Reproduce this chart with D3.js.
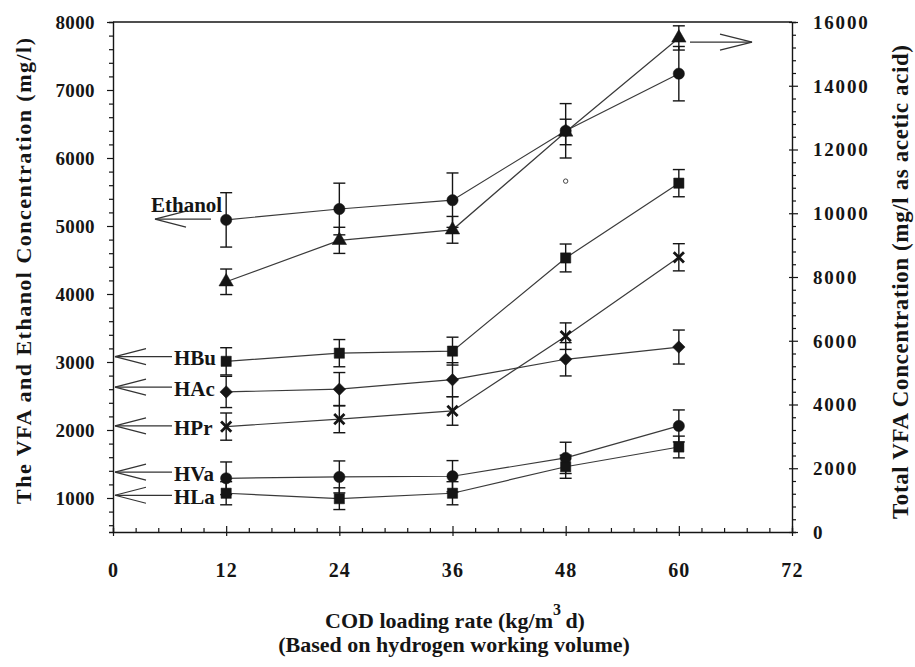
<!DOCTYPE html>
<html>
<head>
<meta charset="utf-8">
<script src="https://cdn.jsdelivr.net/npm/d3@7"></script>
<style>
  body { margin: 0; background: #fff; }
  svg { display: block; }
  text { font-family: "Liberation Serif", "Times New Roman", serif; font-weight: bold; fill: #151515; }
</style>
</head>
<body>
<svg id="chart" width="915" height="667"></svg>
<script>
// COD loading rate (kg/m3 d)
const loadingRates = [12, 24, 36, 48, 60];

// Ethanol and individual acids (mg/l, left axis) with their error half-widths
const ethanol      = [5090, 5250, 5380, 6400, 7240];
const ethanolErr   = [400, 380, 400, 400, 400];
const butyric      = [3010, 3130, 3160, 4530, 5630];
const butyricErr   = [200, 200, 205, 205, 200];
const acetic       = [2560, 2600, 2740, 3040, 3220];
const aceticErr    = [230, 245, 250, 245, 250];
const propionic    = [2050, 2160, 2280, 3380, 4540];
const propionicErr = [200, 200, 210, 195, 200];
const valeric      = [1290, 1310, 1320, 1590, 2060];
const valericErr   = [240, 235, 230, 230, 235];
const lactic       = [1070, 990, 1070, 1460, 1750];
const lacticErr    = [170, 160, 170, 170, 160];

// Total VFA (mg/l as acetic acid, right axis)
const totalVFA     = [7850, 9150, 9480, 12550, 15500];
const totalVFAErr  = [400, 410, 420, 400, 380];

// stray open dot at 48
const strayDot = [{ x: 48, v: 5660 }];

// axis ticks
const xTicks      = [0, 12, 24, 36, 48, 60, 72];
const leftTicks   = [1000, 2000, 3000, 4000, 5000, 6000, 7000, 8000];
const rightTicks  = [0, 2000, 4000, 6000, 8000, 10000, 12000, 14000, 16000];

// labels with arrows pointing to the left axis (value the arrow points at)
const leftArrowLabels = ["HBu", "HAc", "HPr", "HVa", "HLa"];
const leftArrowValues = [3080, 2630, 2060, 1380, 1040];
const ethanolArrowValue = 5100;
const totalArrowValue = 15370;

const svg = d3.select("#chart");
const M = { left: 113, right: 792, top: 22, bottom: 532 };

const x  = d3.scaleLinear().domain([0, 72]).range([M.left, M.right]);
const yL = d3.scaleLinear().domain([500, 8000]).range([M.bottom, M.top]);
const yR = d3.scaleLinear().domain([0, 16000]).range([M.bottom, M.top]);

const ink = "#151515";
const lineInk = "#3a3a3a";
const serif = "'Liberation Serif', 'Times New Roman', serif";

// ---- axes ----
const fmtInt = d3.format("d");

// left axis: minor every 200, labelled every 1000
const leftAll = d3.range(600, 8001, 200);
const gL = svg.append("g").attr("transform", `translate(${M.left},0)`)
  .call(d3.axisLeft(yL).tickValues(leftAll).tickSize(4)
    .tickFormat(d => leftTicks.includes(d) ? fmtInt(d) : ""));
gL.selectAll(".tick line").attr("x2", d => leftTicks.includes(d) ? -6 : -4);
gL.selectAll(".tick text").attr("x", -18).attr("dy", "0.34em")
  .attr("font-size", 19).attr("letter-spacing", 0.4);

// right axis: minor every 400, labelled every 2000
const rightAll = d3.range(0, 16001, 400);
const gR = svg.append("g").attr("transform", `translate(${M.right},0)`)
  .call(d3.axisRight(yR).tickValues(rightAll).tickSize(4)
    .tickFormat(d => rightTicks.includes(d) ? fmtInt(d) : ""));
gR.selectAll(".tick line")
  .attr("x1", d => rightTicks.includes(d) ? -3 : 0)
  .attr("x2", d => rightTicks.includes(d) ? 6 : 4);
gR.selectAll(".tick text").attr("x", 21).attr("dy", "0.34em")
  .attr("font-size", 19).attr("letter-spacing", 1.8);

// bottom axis: minor every 2.4, labelled every 12, ticks point inward
const xAll = d3.range(0, 73, 2.4).map(v => +v.toFixed(1));
const gB = svg.append("g").attr("transform", `translate(0,${M.bottom})`)
  .call(d3.axisBottom(x).tickValues(xAll).tickSize(-4)
    .tickFormat(d => xTicks.includes(d) ? fmtInt(d) : ""));
gB.selectAll(".tick line")
  .attr("y1", d => xTicks.includes(d) ? 4 : 0)
  .attr("y2", d => xTicks.includes(d) ? -6 : -4);
gB.selectAll(".tick text").attr("y", 45).attr("dy", "0")
  .attr("font-size", 20).attr("letter-spacing", 1.2);

[gL, gR, gB].forEach(g => {
  g.selectAll(".domain").attr("stroke", ink).attr("stroke-width", 1.4);
  g.selectAll(".tick line").attr("stroke", ink).attr("stroke-width", 1.2);
  g.selectAll(".tick text").attr("fill", ink)
    .attr("font-family", serif).attr("font-weight", "bold");
});
// top border of the frame
svg.append("line")
  .attr("x1", M.left).attr("x2", M.right).attr("y1", M.top).attr("y2", M.top)
  .attr("stroke", ink).attr("stroke-width", 1.4);

// ---- series ----
const series = [
  { vals: ethanol,   err: ethanolErr,   y: yL, shape: "circle" },
  { vals: totalVFA,  err: totalVFAErr,  y: yR, shape: "triangle" },
  { vals: butyric,   err: butyricErr,   y: yL, shape: "square" },
  { vals: acetic,    err: aceticErr,    y: yL, shape: "diamond" },
  { vals: propionic, err: propionicErr, y: yL, shape: "cross" },
  { vals: valeric,   err: valericErr,   y: yL, shape: "circle" },
  { vals: lactic,    err: lacticErr,    y: yL, shape: "square" }
];

const gLines = svg.append("g");
const gErr = svg.append("g");
const gMarks = svg.append("g");

const line = (ys) => d3.line().x(d => x(d.x)).y(d => ys(d.v));

const symbolPath = {
  circle:   d3.symbol().type(d3.symbolCircle).size(100)(),
  square:   d3.symbol().type(d3.symbolSquare).size(105)(),
  diamond:  d3.symbol().type(d3.symbolSquare).size(78)(),
  triangle: d3.symbol().type(d3.symbolTriangle).size(90)(),
  cross:    d3.symbol().type(d3.symbolX).size(70)()
};

series.forEach(s => {
  const pts = loadingRates.map((r, i) => ({ x: r, v: s.vals[i], e: s.err[i] }));

  gLines.append("path").datum(pts)
    .attr("d", line(s.y))
    .attr("fill", "none").attr("stroke", lineInk).attr("stroke-width", 1.2);

  const eb = gErr.selectAll(null).data(pts).enter().append("g")
    .attr("stroke", ink).attr("stroke-width", 1.4);
  eb.append("line")
    .attr("x1", d => x(d.x)).attr("x2", d => x(d.x))
    .attr("y1", d => s.y(d.v - d.e)).attr("y2", d => s.y(d.v + d.e));
  [-1, 1].forEach(sign => {
    eb.append("line")
      .attr("x1", d => x(d.x) - 6).attr("x2", d => x(d.x) + 6)
      .attr("y1", d => s.y(d.v + sign * d.e)).attr("y2", d => s.y(d.v + sign * d.e));
  });

  gMarks.selectAll(null).data(pts).enter().append("path")
    .attr("d", symbolPath[s.shape])
    .attr("transform", d => {
      const t = `translate(${x(d.x)},${s.y(d.v)})`;
      return s.shape === "diamond" ? t + " rotate(45)" : t;
    })
    .attr("fill", s.shape === "cross" ? "none" : ink)
    .attr("stroke", ink)
    .attr("stroke-width", s.shape === "cross" ? 2.8 : 0.5);
});

gMarks.selectAll(null).data(strayDot).enter().append("circle")
  .attr("cx", d => x(d.x)).attr("cy", d => yL(d.v)).attr("r", 2.2)
  .attr("fill", "none").attr("stroke", "#444").attr("stroke-width", 1);

// ---- arrow annotations ----
const gAnn = svg.append("g").attr("stroke", "#333").attr("stroke-width", 1.2).attr("fill", "none");

function leftArrow(tipX, tailX, y) {
  gAnn.append("line").attr("x1", tipX).attr("x2", tailX).attr("y1", y).attr("y2", y);
  gAnn.append("path").attr("d", `M${tipX + 31},${y - 8}L${tipX},${y}L${tipX + 31},${y + 8}`);
}
function rightArrow(tailX, tipX, y) {
  gAnn.append("line").attr("x1", tailX).attr("x2", tipX).attr("y1", y).attr("y2", y);
  gAnn.append("path").attr("d", `M${tipX - 32},${y - 8}L${tipX},${y}L${tipX - 32},${y + 8}`);
}

leftArrowLabels.forEach((lab, i) => {
  const y = yL(leftArrowValues[i]);
  leftArrow(M.left + 2, 172, y);
  svg.append("text").attr("x", 174).attr("y", y).attr("dy", "0.42em")
    .attr("font-size", 21).text(lab);
});

const yEth = yL(ethanolArrowValue);
leftArrow(155, 211, yEth);
svg.append("text").attr("x", 151).attr("y", yEth - 7).attr("font-size", 21).text("Ethanol");

rightArrow(690, 752, yR(totalArrowValue));

// ---- axis titles ----
svg.append("text")
  .attr("transform", "translate(31,271) rotate(-90)")
  .attr("text-anchor", "middle").attr("font-size", 22)
  .attr("textLength", 466).attr("lengthAdjust", "spacing")
  .text("The VFA and Ethanol Concentration (mg/l)");

svg.append("text")
  .attr("transform", "translate(908,282) rotate(-90)")
  .attr("text-anchor", "middle").attr("font-size", 23)
  .attr("textLength", 474).attr("lengthAdjust", "spacing")
  .text("Total VFA Concentration (mg/l as acetic acid)");

const xt = svg.append("text").attr("x", 455).attr("y", 628)
  .attr("text-anchor", "middle").attr("font-size", 22);
xt.append("tspan").text("COD loading rate (kg/m");
xt.append("tspan").attr("dy", -13).attr("font-size", 16).text("3");
xt.append("tspan").attr("dy", 13).text("\u2009d)");

svg.append("text").attr("x", 454).attr("y", 652)
  .attr("text-anchor", "middle").attr("font-size", 22)
  .text("(Based on hydrogen working volume)");
</script>
</body>
</html>
